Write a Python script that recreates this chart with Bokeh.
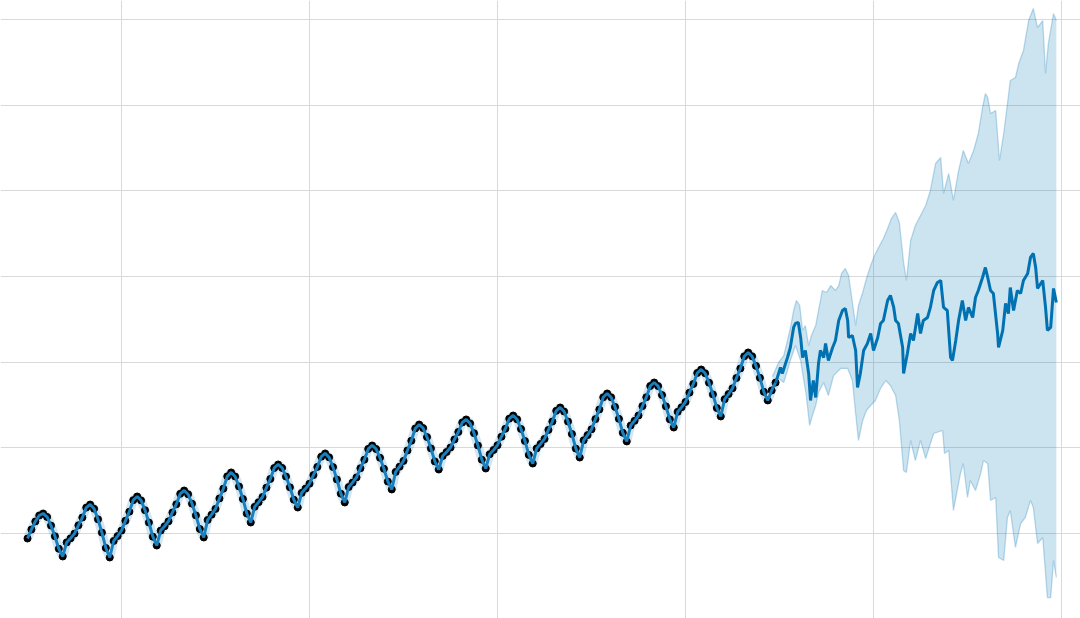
from bokeh.plotting import figure
from bokeh.models import Range1d, FixedTicker
from bokeh.embed import file_html
from bokeh.resources import INLINE

# ---------------- data ----------------
start_year = 1998
# monthly observations (one per month starting January of start_year)
observed = [
    93.8, 104.3, 113.7, 120.7, 123.0, 119.0, 108.9, 96.4, 81.8, 72.8, 89.2, 94.0,
    99.5, 109.2, 118.3, 129.9, 133.5, 128.6, 116.2, 100.7, 82.7, 71.6, 90.9, 96.6,
    103.0, 114.4, 125.1, 138.6, 142.9, 138.3, 126.9, 112.5, 95.9, 85.6, 103.0, 108.1,
    113.9, 124.2, 133.8, 146.0, 149.9, 145.5, 134.5, 120.8, 104.9, 95.0, 115.5, 121.6,
    128.4, 140.6, 152.0, 166.4, 171.0, 166.3, 154.6, 140.0, 123.0, 112.5, 130.8, 136.2,
    142.3, 153.2, 163.4, 176.2, 180.3, 176.3, 166.2, 153.6, 139.1, 130.0, 147.1, 152.1,
    157.8, 167.9, 177.4, 189.4, 193.2, 188.6, 177.2, 162.8, 146.2, 135.9, 153.9, 159.2,
    165.2, 175.9, 185.9, 198.5, 202.5, 198.4, 188.1, 175.3, 160.4, 151.1, 171.6, 177.7,
    184.5, 196.6, 208.0, 222.4, 227.0, 222.8, 212.3, 199.1, 183.9, 174.4, 190.2, 194.9,
    200.1, 209.5, 218.3, 229.4, 232.9, 228.3, 216.9, 202.5, 185.9, 175.6, 192.3, 197.3,
    202.8, 212.7, 222.0, 233.8, 237.5, 233.0, 221.8, 207.8, 191.5, 181.4, 199.1, 204.3,
    210.2, 220.7, 230.5, 243.0, 246.9, 242.2, 230.5, 215.9, 198.9, 188.4, 208.6, 214.6,
    221.4, 233.3, 244.6, 258.8, 263.3, 258.8, 247.6, 233.6, 217.3, 207.2, 225.8, 231.3,
    237.5, 248.5, 258.9, 272.0, 276.1, 271.9, 261.4, 248.2, 233.0, 223.5, 241.8, 247.2,
    253.3, 264.2, 274.4, 287.2, 291.3, 286.9, 275.9, 262.2, 246.3, 236.4, 256.6, 262.6,
    269.3, 281.3, 292.5, 306.7, 311.2, 306.7, 295.5, 281.5, 265.2, 255.1, 266.8, 276.0,
]
obs_t = [start_year + i / 12 for i in range(len(observed))]

# forecast (predicted line)
fc_t = [2013.92, 2014.02, 2014.06, 2014.17, 2014.23, 2014.30, 2014.34, 2014.40, 2014.45, 2014.49,
        2014.55, 2014.62, 2014.66, 2014.72, 2014.77, 2014.83, 2014.87, 2014.94, 2014.98, 2015.04,
        2015.13, 2015.19, 2015.26, 2015.34, 2015.40, 2015.45, 2015.47, 2015.55, 2015.62, 2015.66,
        2015.72, 2015.79, 2015.87, 2015.94, 2016.00, 2016.09, 2016.15, 2016.21, 2016.30, 2016.36,
        2016.43, 2016.47, 2016.53, 2016.62, 2016.64, 2016.72, 2016.79, 2016.85, 2016.94, 2017.00,
        2017.06, 2017.15, 2017.21, 2017.28, 2017.36, 2017.43, 2017.49, 2017.57, 2017.64, 2017.68,
        2017.75, 2017.81, 2017.89, 2017.96, 2018.02, 2018.11, 2018.17, 2018.23, 2018.32, 2018.38,
        2018.43, 2018.49, 2018.55, 2018.64, 2018.66, 2018.75, 2018.81, 2018.87, 2018.91, 2018.98,
        2019.06, 2019.13, 2019.19, 2019.28, 2019.34, 2019.40, 2019.45, 2019.49, 2019.60, 2019.66,
        2019.70, 2019.77, 2019.83, 2019.89]
fc_yhat = [276.0, 293.6, 286.6, 305.3, 317.0, 340.4, 345.1, 346.2, 328.7, 305.3,
           313.5, 286.6, 255.1, 278.4, 258.6, 298.3, 313.5, 305.3, 321.7, 301.8,
           317.0, 325.2, 348.6, 360.2, 362.6, 348.6, 328.7, 331.0, 313.5, 270.3,
           286.6, 313.5, 321.7, 333.4, 313.5, 328.7, 345.1, 348.6, 371.9, 377.8,
           363.8, 348.6, 345.1, 317.0, 286.6, 310.0, 333.4, 325.2, 356.7, 333.4,
           348.6, 352.1, 363.8, 383.6, 393.0, 395.3, 363.8, 360.2, 305.3, 301.8,
           325.2, 348.6, 371.9, 348.6, 363.8, 352.1, 375.4, 383.6, 398.8, 410.5,
           398.8, 383.6, 380.1, 333.4, 317.0, 336.9, 368.4, 356.7, 387.1, 360.2,
           383.6, 380.1, 395.3, 403.5, 422.2, 426.9, 410.5, 386.0, 395.3, 363.8,
           336.9, 340.4, 386.0, 369.6]

# upper bound of uncertainty interval
up_t = [2013.85, 2013.98, 2014.09, 2014.17, 2014.23, 2014.30, 2014.36, 2014.43, 2014.49, 2014.55,
        2014.62, 2014.68, 2014.77, 2014.83, 2014.91, 2015.00, 2015.09, 2015.19, 2015.26, 2015.32,
        2015.40, 2015.47, 2015.53, 2015.62, 2015.68, 2015.77, 2015.85, 2015.94, 2016.02, 2016.13,
        2016.21, 2016.30, 2016.38, 2016.47, 2016.55, 2016.64, 2016.70, 2016.79, 2016.89, 2017.00,
        2017.11, 2017.21, 2017.32, 2017.43, 2017.49, 2017.60, 2017.70, 2017.81, 2017.91, 2018.02,
        2018.13, 2018.23, 2018.32, 2018.38, 2018.43, 2018.49, 2018.60, 2018.68, 2018.77, 2018.85,
        2018.91, 2019.02, 2019.09, 2019.19, 2019.30, 2019.40, 2019.49, 2019.60, 2019.66, 2019.72,
        2019.83, 2019.89]
up_v = [283.1, 299.5, 307.6, 325.2, 339.2, 360.2, 371.9, 366.1, 336.9, 342.7,
        319.3, 331.0, 342.7, 360.2, 383.6, 381.3, 389.4, 383.6, 389.4, 403.5,
        409.3, 401.1, 377.8, 342.7, 366.1, 381.3, 397.6, 412.8, 424.5, 436.2,
        444.4, 456.1, 467.7, 474.8, 463.1, 416.3, 395.3, 442.0, 459.6, 471.3,
        482.9, 500.5, 532.0, 539.0, 497.0, 520.3, 488.8, 523.8, 547.2, 532.0,
        547.2, 567.1, 597.5, 613.8, 609.1, 590.4, 594.0, 535.5, 567.1, 602.1,
        629.0, 632.5, 648.9, 664.1, 699.1, 713.2, 690.9, 699.1, 637.2, 672.3,
        707.3, 699.1]

# lower bound of uncertainty interval
lo_t = [2013.85, 2013.98, 2014.09, 2014.17, 2014.23, 2014.34, 2014.45, 2014.51, 2014.57, 2014.64,
        2014.70, 2014.77, 2014.83, 2014.94, 2015.04, 2015.15, 2015.30, 2015.45, 2015.55, 2015.62,
        2015.68, 2015.77, 2015.85, 2015.94, 2016.04, 2016.15, 2016.26, 2016.36, 2016.47, 2016.55,
        2016.64, 2016.70, 2016.79, 2016.89, 2017.00, 2017.11, 2017.28, 2017.47, 2017.51, 2017.60,
        2017.70, 2017.85, 2017.91, 2018.00, 2018.06, 2018.17, 2018.28, 2018.34, 2018.43, 2018.49,
        2018.60, 2018.66, 2018.77, 2018.85, 2018.91, 2019.02, 2019.13, 2019.23, 2019.34, 2019.40,
        2019.49, 2019.60, 2019.70, 2019.77, 2019.83, 2019.89]
lo_v = [272.6, 280.8, 276.1, 290.1, 301.8, 319.3, 301.8, 280.8, 260.9, 225.8,
        237.5, 249.2, 264.4, 276.1, 260.9, 284.3, 292.5, 292.5, 278.4, 239.9,
        208.3, 231.7, 243.4, 249.2, 255.1, 269.1, 278.4, 272.6, 260.9, 231.7,
        173.3, 170.9, 208.3, 184.9, 208.3, 187.3, 216.5, 220.0, 193.1, 196.6,
        126.5, 169.8, 181.4, 141.7, 161.6, 149.9, 169.8, 184.9, 181.4, 138.2,
        141.7, 71.6, 68.1, 118.3, 126.5, 83.3, 111.3, 118.3, 138.2, 130.0,
        88.0, 95.0, 24.8, 24.8, 68.1, 48.2]

x_ticks = [2000, 2004, 2008, 2012, 2016, 2020]
y_ticks = [100, 200, 300, 400, 500, 600, 700]

# ---------------- plot ----------------
BLUE = "#0072B2"

p = figure(width=1080, height=618,
           x_range=Range1d(1997.4255, 2020.404), y_range=Range1d(0.3, 722.5),
           output_backend="svg", toolbar_location=None,
           x_axis_location=None, y_axis_location=None,
           min_border=0, outline_line_color=None)
p.background_fill_color = "white"
p.border_fill_color = "white"

p.xgrid.ticker = FixedTicker(ticks=x_ticks)
p.ygrid.ticker = FixedTicker(ticks=y_ticks)
for g in (p.xgrid, p.ygrid):
    g.grid_line_color = "#d9d9d9"
    g.grid_line_width = 1

band_x = up_t + lo_t[::-1]
band_y = up_v + lo_v[::-1]
p.patch(band_x, band_y, fill_color=BLUE, fill_alpha=0.2, line_color=None)
p.line(up_t, up_v, line_color=BLUE, line_alpha=0.25, line_width=1.3)
p.line(lo_t, lo_v, line_color=BLUE, line_alpha=0.25, line_width=1.3)

# narrow interval around the fitted history (halo)
p.line(obs_t, observed, line_color=BLUE, line_alpha=0.18, line_width=9)

p.scatter(obs_t, observed, size=7, color="black")
p.line(obs_t, observed, line_color="#1a7fbd", line_width=3)
p.line(fc_t, fc_yhat, line_color=BLUE, line_width=3)

open("out.html", "w").write(file_html(p, INLINE))
